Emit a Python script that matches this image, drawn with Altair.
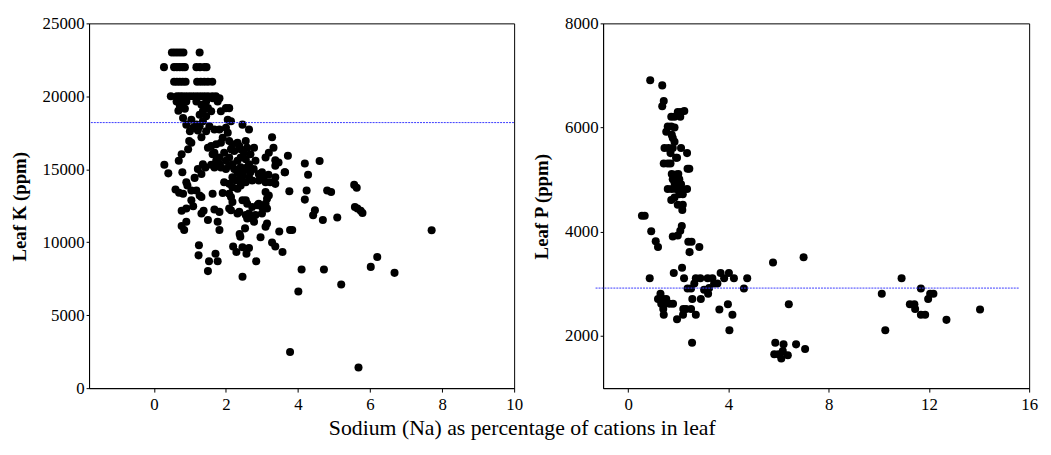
import altair as alt
import pandas as pd

# ---------------- data ----------------
x_title = "Sodium (Na) as percentage of cations in leaf"
k_title = "Leaf K (ppm)"
p_title = "Leaf P (ppm)"

k_x_ticks = [0, 2, 4, 6, 8, 10]
k_y_ticks = [0, 5000, 10000, 15000, 20000, 25000]
p_x_ticks = [0, 4, 8, 12, 16]
p_y_ticks = [2000, 4000, 6000, 8000]

# Leaf K: points lying on discrete levels
k_level_23000 = [0.50, 0.58, 0.66, 0.74, 0.82, 1.27]
k_level_22000 = [0.28, 0.56, 0.64, 0.72, 0.80, 0.86, 1.18, 1.28, 1.40, 1.46]
k_level_21000 = [0.56, 0.64, 0.72, 0.80, 0.88, 1.20, 1.30, 1.40, 1.50, 1.62]
k_level_20000 = [0.47, 0.64, 0.72, 0.80, 0.90, 1.00, 1.10, 1.20, 1.30, 1.40, 1.50, 1.62, 1.72]

# Leaf K: remaining points (Na %, K ppm)
k_points = [
    (0.63,19640),(0.72,19370),(0.68,19010),(0.86,19150),(0.90,19640),(1.18,19640),(1.32,19420),(1.45,19640),
    (1.36,18970),(1.50,19190),(1.63,19870),(1.77,19640),(1.82,19870),(2.00,19190),(2.09,19190),(1.86,18970),
    (0.77,19640),(1.27,18740),(1.45,18630),(1.59,18970),(0.81,18520),(1.04,18400),(1.18,18060),
    (0.90,18060),(1.09,17840),(1.27,17950),(1.36,18290),(1.54,17950),(1.22,17660),(1.45,17610),(1.32,17200),
    (1.68,17730),(1.82,17730),(2.05,18400),(2.14,18290),(2.05,17500),(2.00,17840),(2.46,18060),(2.64,17730),(3.28,17200),
    (1.00,17610),(0.98,16940),(1.04,16820),(0.95,16370),(0.77,16030),(1.50,16480),(1.59,16600),(1.68,16140),
    (1.73,16710),(1.86,16820),(1.91,17160),(2.09,16940),(2.18,16710),(2.32,16820),(2.37,16600),(2.55,16940),
    (2.59,16480),(2.78,16480),(3.10,15810),(3.19,16140),(3.32,16480),(3.37,15620),(3.72,15920),(1.63,16030),
    (1.82,15810),(1.95,16140),(2.14,16370),(2.23,16260),(2.41,16370),(2.50,16140),
    (2.09,15810),(2.18,15350),(2.32,15580),(2.41,15810),(2.55,15690),(2.64,15350),(2.68,16030),(2.82,15580),
    (2.00,15580),(1.82,15350),(1.73,15580),(1.86,15130),(2.00,15020),(2.09,15240),(2.23,15020),(2.32,14790),
    (2.41,15130),(2.50,14900),(2.59,15130),(2.68,14790),(2.77,15020),(2.91,14680),(3.00,14790),(3.46,15470),
    (3.37,15240),(3.64,14790),
    (2.18,14450),(2.27,14230),(2.37,14340),(2.46,14560),(2.55,14110),(2.64,14450),(2.73,14230),(2.91,14230),
    (3.05,14450),(3.18,14630),(3.10,14110),(3.23,14110),(3.37,14450),(2.09,14000),(2.18,13770),(2.32,13660),
    (2.41,13890),(1.95,14110),(1.91,13370),(1.63,13320),(2.09,13320),(2.14,13100),
    (0.29,15310),(0.40,14720),(0.69,15580),(0.79,14790),(0.60,13620),(0.70,13390),(0.81,13320),(0.90,14110),
    (0.93,13890),(1.04,13550),(1.13,14410),(1.18,13550),(1.22,15020),(1.32,14680),(1.36,15350),(1.43,15130),
    (1.32,13100),(1.27,13210),(1.59,15310),(1.68,15130),
    (0.77,12150),(0.90,12310),(1.04,12870),(1.09,12460),(1.32,11970),(1.38,12150),(1.50,11520),(1.68,12240),
    (1.82,12080),(1.77,11400),(1.82,10840),(2.09,12310),(2.18,12760),(2.14,12190),(2.32,11970),(2.37,12080),
    (2.46,12870),(2.55,12870),(2.59,12640),(2.64,11970),(2.73,12420),(2.87,12530),(2.91,12640),(3.00,12420),
    (3.10,12640),(3.14,12310),(3.00,11970),(2.82,11860),(2.78,11400),(2.73,11630),(3.14,12980),(3.19,13210),
    (3.10,13440),(2.55,11860),(2.59,11630),
    (0.84,10840),(0.77,11110),(0.90,11400),(2.53,10950),(2.40,10380),(2.38,10570),(2.96,10340),(3.10,11060),
    (3.14,11290),(3.28,9980),(3.37,9710),(3.48,10730),(3.57,9330),(3.78,10840),(3.84,10840),(1.25,9800),
    (1.24,9100),(1.53,8690),(1.50,8020),(1.71,9210),(1.77,8690),(2.20,9710),(2.29,9330),(2.46,9660),
    (2.64,9600),(2.57,9210),(2.84,8690),(2.46,7630),
    (3.76,13500),(4.19,15400),(4.19,12920),(4.24,13550),(4.28,14630),(4.42,11850),(4.47,12190),(4.60,15560),
    (4.69,11520),(4.81,13550),(4.92,13440),(5.09,11700),(5.20,7110),(5.56,13930),(5.63,13730),(5.58,12420),
    (5.65,12310),(5.74,12150),(5.79,12010),(5.68,1420),(6.02,8310),(6.20,8990),(6.68,7900),(7.71,10820),
    (3.78,2480),(4.10,8130),(4.01,6620),(4.72,8130),(3.63,14790),(3.37,14000),
]

# Leaf P points (Na %, P ppm)
p_points = [
    (0.88,6910),(1.36,6810),(1.42,6510),(1.36,6410),(1.72,6210),(1.85,6210),(1.98,6300),(2.08,6210),(2.24,6320),
    (2.11,6300),(1.52,5920),(1.58,6020),(1.72,6020),(1.85,6000),(1.74,5860),(1.78,5800),(1.85,5730),(1.45,5610),
    (1.61,5610),(1.78,5610),(2.11,5610),(1.69,5510),(1.95,5420),(2.35,5510),(1.42,5310),(1.58,5310),(1.69,5310),
    (1.91,5420),(2.37,5210),(2.44,5210),(1.74,5110),(1.91,5100),(2.00,5110),(2.04,5010),(1.78,5010),(1.85,4940),
    (1.95,4910),(2.11,4910),(1.58,4820),(1.74,4820),(1.91,4820),(2.18,4800),(2.35,4820),(2.04,4720),(2.18,4720),
    (1.72,4610),(1.85,4660),(1.98,4520),(2.18,4520),(2.16,4420),(0.55,4310),(0.66,4310),(2.14,4110),(2.08,4020),
    (1.98,3930),(1.78,3910),(0.92,4010),(1.10,3820),(1.19,3710),(2.40,3810),(2.53,3810),(2.45,3610),(2.84,3710),
    (1.82,3210),(2.15,3310),(2.23,3110),(0.86,3110),(2.64,3010),(2.70,3110),(2.88,3110),(2.51,2910),(2.37,2910),
    (3.03,2890),(3.19,2810),(3.23,2920),(3.17,3110),(3.36,3110),(3.43,3010),(3.56,3010),(3.69,3210),(3.83,3110),
    (4.02,3210),(4.22,3110),(4.75,3110),(4.62,2910),(1.29,2810),(1.19,2710),(1.39,2710),(1.52,2710),(1.32,2620),
    (1.45,2620),(1.65,2620),(1.79,2620),(1.40,2520),(1.42,2410),(2.20,2520),(2.31,2520),(2.51,2520),(2.56,2710),
    (2.90,2710),(2.19,2410),(1.95,2320),(2.70,2410),(3.64,2510),(3.98,2610),(4.16,2410),(4.04,2110),(2.55,1870),
    (5.78,3410),(7.00,3510),(6.41,2610),(5.87,1870),(6.20,1840),(6.70,1840),(7.06,1750),(5.83,1650),(6.00,1650),
    (6.11,1570),(6.17,1710),(6.37,1630),(10.12,2810),(10.26,2110),(10.91,3110),(11.24,2610),(11.42,2610),
    (11.45,2520),(11.68,2910),(11.68,2410),(11.85,2410),(11.97,2710),(12.05,2810),(12.18,2810),(12.70,2310),
    (14.04,2510),
]

# reference (critical level) lines
k_ref = {"x1": -1.75, "x2": 10.0, "val": 18200}
p_ref = {"x1": -1.3, "x2": 15.6, "val": 2920}

# ---------------- build tables ----------------
k_rows = []
for lvl, xs in [(23000, k_level_23000), (22000, k_level_22000), (21000, k_level_21000), (20000, k_level_20000)]:
    k_rows += [(x, lvl) for x in xs]
k_rows += k_points
dk = pd.DataFrame(k_rows, columns=["na", "val"])
dp = pd.DataFrame(p_points, columns=["na", "val"])

FONT = "Liberation Serif"
BLUE = "#3a3aff"


def panel(df, ref, xdom, ydom, xt, yt, ytitle, title_x, w):
    xs = alt.Scale(domain=xdom, nice=False, zero=False)
    ys = alt.Scale(domain=ydom, nice=False, zero=False)
    pts = alt.Chart(df).mark_circle(size=66, color="black", opacity=1).encode(
        x=alt.X("na:Q", scale=xs,
                axis=alt.Axis(values=xt, title=None, format="d", labelPadding=5, tickSize=4,
                              labelFlush=False, labelOverlap=False)),
        y=alt.Y("val:Q", scale=ys,
                axis=alt.Axis(values=yt, title=ytitle, format="d", tickSize=3, labelPadding=2,
                              labelFlush=False, labelOverlap=False,
                              titleX=title_x, titleY=185, titleAngle=-90,
                              titleAlign="center", titleBaseline="middle")),
    )
    rule = alt.Chart(pd.DataFrame([ref])).mark_rule(
        color=BLUE, strokeDash=[2, 1], strokeWidth=1, clip=False
    ).encode(x="x1:Q", x2="x2:Q", y="val:Q")
    return alt.layer(pts, rule).properties(width=w, height=369)


left = panel(dk, k_ref, [-1.8, 10], [0, 25000], k_x_ticks, k_y_ticks, k_title, -70, 430)
right = panel(dp, p_ref, [-1, 16], [1000, 8000], p_x_ticks, p_y_ticks, p_title, -62, 431)

chart = alt.hconcat(left, right, spacing=90, bounds="flush").properties(
    title=alt.TitleParams(x_title, orient="bottom", anchor="middle", font=FONT,
                          fontSize=22, fontWeight="normal", color="black", offset=5, dx=-2),
    padding={"left": 2, "top": 3, "right": 5, "bottom": 5},
    background="white",
).configure_view(
    stroke="black", strokeWidth=1
).configure_axis(
    grid=False, domainColor="black", tickColor="black", labelColor="black",
    labelFont=FONT, labelFontSize=17, titleFont=FONT, titleFontSize=19,
    titleFontWeight="bold", titleColor="black", domainWidth=1,
)

chart.save("out.html", embed_options={"renderer": "svg", "actions": False})
